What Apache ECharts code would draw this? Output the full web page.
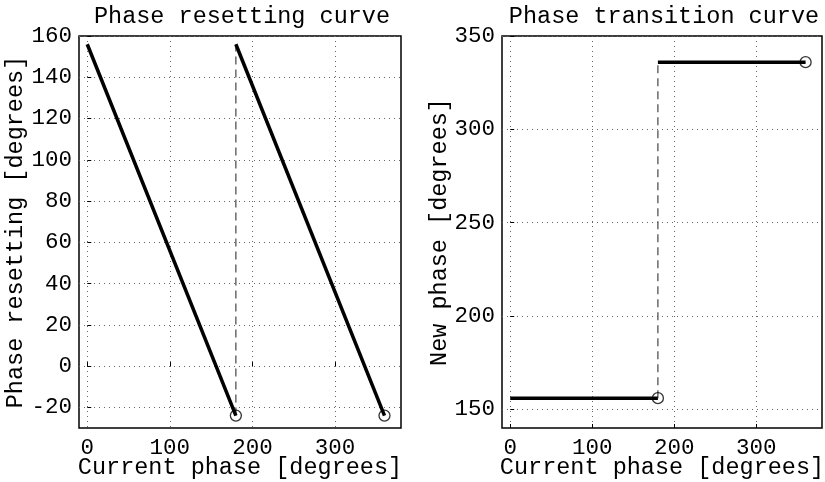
<!DOCTYPE html>
<html>
<head>
<meta charset="utf-8">
<script src="https://cdn.jsdelivr.net/npm/echarts@6/dist/echarts.min.js"></script>
<style>
html, body { margin: 0; padding: 0; background: #fff; }
#chart { width: 825px; height: 482px; }
</style>
</head>
<body>
<div id="chart"></div>
<script>
// current phase (degrees) at the ends of each branch
var phaseLow = [0, 180];
var phaseHigh = [180, 360];
// phase resetting curve values
var prcLow = [156, -24];
var prcHigh = [156, -24];
// phase transition curve values
var ptcLow = [156, 156];
var ptcHigh = [336, 336];
// open circles at the branch ends
var prcDots = [[180, -24], [360, -24]];
var ptcDots = [[180, 156], [360, 336]];
// tick labels
var phaseTicks = [0, 100, 200, 300];
var prcTicks = [-20, 0, 20, 40, 60, 80, 100, 120, 140, 160];
var ptcTicks = [150, 200, 250, 300, 350];

var font = 'Liberation Mono';
var fs = 23.5;   // titles and axis names
var tfs = 22.5;  // tick labels

function pairs(xs, ys) {
	var out = [];
	for (var i = 0; i < xs.length; i++) out.push([xs[i], ys[i]]);
	return out;
}

function xAxisOf(idx) {
	return {
		type: 'value', gridIndex: idx, min: -10, max: 380,
		name: 'Current phase [degrees]', nameLocation: 'middle', nameGap: 28, nameMoveOverlap: false,
		nameTextStyle: { fontFamily: font, fontSize: fs, color: '#000' },
		axisLine: { show: false },
		axisTick: { show: true, inside: true, length: 4, customValues: phaseTicks, lineStyle: { color: '#000' } },
		axisLabel: { fontFamily: font, fontSize: tfs, color: '#000', margin: 9, customValues: phaseTicks },
		splitLine: { show: true, lineStyle: { color: '#666', type: [1, 4], width: 1 } }
	};
}

function yAxisOf(idx, min, max, ticks, name, gap) {
	return {
		type: 'value', gridIndex: idx, min: min, max: max,
		name: name, nameLocation: 'middle', nameGap: gap, nameMoveOverlap: false,
		nameTextStyle: { fontFamily: font, fontSize: fs, color: '#000' },
		axisLine: { show: false },
		axisTick: { show: true, inside: true, length: 4, customValues: ticks, lineStyle: { color: '#000' } },
		axisLabel: { fontFamily: font, fontSize: tfs, color: '#000', margin: 7, customValues: ticks },
		splitLine: { show: true, lineStyle: { color: '#666', type: [1, 4], width: 1 } }
	};
}

function thick(data, g) {
	return { type: 'line', xAxisIndex: g, yAxisIndex: g, data: data, symbol: 'none',
		lineStyle: { color: '#000', width: 3.5 }, silent: true, z: 3 };
}
function dashed(data, g) {
	return { type: 'line', xAxisIndex: g, yAxisIndex: g, data: data, symbol: 'none',
		lineStyle: { color: '#444', width: 1.2, type: [8, 5] }, silent: true, z: 2 };
}
function dots(data, g) {
	return { type: 'scatter', xAxisIndex: g, yAxisIndex: g, data: data, symbol: 'circle',
		symbolSize: 11, itemStyle: { color: 'rgba(255,255,255,0)', borderColor: '#000', borderWidth: 1.3 }, z: 4 };
}

var chart = echarts.init(document.getElementById('chart'));
chart.setOption({
	animation: false,
	backgroundColor: '#fff',
	title: [
		{ text: 'Phase resetting curve', left: 237, top: 0, textAlign: 'center',
			textStyle: { fontFamily: font, fontSize: fs, fontWeight: 'normal', color: '#000' } },
		{ text: 'Phase transition curve', left: 659, top: 0, textAlign: 'center',
			textStyle: { fontFamily: font, fontSize: fs, fontWeight: 'normal', color: '#000' } }
	],
	grid: [
		{ left: 79, top: 36, width: 322, height: 392, outerBoundsMode: 'none', containLabel: false,
			show: true, borderColor: '#000', borderWidth: 1.5 },
		{ left: 502, top: 36, width: 320, height: 392, outerBoundsMode: 'none', containLabel: false,
			show: true, borderColor: '#000', borderWidth: 1.5 }
	],
	xAxis: [xAxisOf(0), xAxisOf(1)],
	yAxis: [
		yAxisOf(0, -30, 160, prcTicks, 'Phase resetting [degrees]', 51),
		yAxisOf(1, 140, 350, ptcTicks, 'New phase [degrees]', 50)
	],
	series: [
		dashed([[phaseHigh[0], prcLow[1]], [phaseHigh[0], prcHigh[0]]], 0),
		thick(pairs(phaseLow, prcLow), 0),
		thick(pairs(phaseHigh, prcHigh), 0),
		dots(prcDots, 0),
		dashed([[phaseHigh[0], ptcLow[1]], [phaseHigh[0], ptcHigh[0]]], 1),
		thick(pairs(phaseLow, ptcLow), 1),
		thick(pairs(phaseHigh, ptcHigh), 1),
		dots(ptcDots, 1)
	]
});
</script>
</body>
</html>
